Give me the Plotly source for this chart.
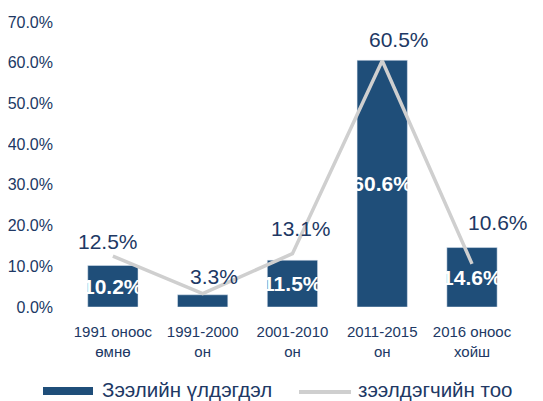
import plotly.graph_objects as go

categories = ["1991 оноос<br>өмнө", "1991-2000<br>он", "2001-2010<br>он", "2011-2015<br>он", "2016 оноос<br>хойш"]
loan_balance = [10.2, 3.0, 11.5, 60.6, 14.6]
loan_balance_labels = ["10.2%", "", "11.5%", "60.6%", "14.6%"]
borrowers = [12.5, 3.3, 13.1, 60.5, 10.6]
tick_vals = [0, 10, 20, 30, 40, 50, 60, 70]
tick_text = ["0.0%", "10.0%", "20.0%", "30.0%", "40.0%", "50.0%", "60.0%", "70.0%"]
series_names = ["Зээлийн үлдэгдэл", "зээлдэгчийн тоо"]

# label offsets (style)
label_xshift = [-5, 11, 9, 17, 26]
label_yshift = [15, 17, 25, 21, 41]

BAR = "#1F4E79"
LINE = "#CFCFCF"
TXT = "#203864"
FONT = "Liberation Sans, Arial, sans-serif"

# page body has an 8px margin; layout numbers compensate
ML, MR, MT, MB = 60, 21, 14, 102
W, H = 543, 401
PW, PH = W - ML - MR, H - MT - MB


def px(x):
    return (x - ML) / PW


def py(y):
    return (H - MB - y) / PH


fig = go.Figure()
fig.add_trace(go.Bar(
    x=categories, y=loan_balance, marker_color=BAR, width=0.56,
    text=loan_balance_labels, textposition="inside", insidetextanchor="middle",
    constraintext="none", textangle=0,
    textfont=dict(color="white", size=21, family=FONT, weight="bold"),
    showlegend=False, hoverinfo="skip", name=series_names[0],
))
fig.add_trace(go.Scatter(
    x=categories, y=borrowers, mode="lines", name=series_names[1],
    line=dict(color=LINE, width=3.5), showlegend=False,
))

for i, (c, v) in enumerate(zip(categories, borrowers)):
    fig.add_annotation(
        x=c, y=v, text=f"{v:.1f}%", showarrow=False,
        xshift=label_xshift[i], yshift=label_yshift[i],
        font=dict(size=21, color=TXT, family=FONT),
    )

# manual legend
fig.add_shape(type="rect", xref="paper", yref="paper",
              x0=px(35), x1=px(85), y0=py(387), y1=py(379),
              fillcolor=BAR, line=dict(width=0))
fig.add_shape(type="line", xref="paper", yref="paper",
              x0=px(291), x1=px(343), y0=py(384), y1=py(384),
              line=dict(color=LINE, width=4))
fig.add_annotation(xref="paper", yref="paper", x=px(92), y=py(381.5),
                   xanchor="left", yanchor="middle", showarrow=False,
                   text=series_names[0], font=dict(size=20.5, color=TXT, family=FONT))
fig.add_annotation(xref="paper", yref="paper", x=px(348), y=py(381.5),
                   xanchor="left", yanchor="middle", showarrow=False,
                   text=series_names[1], font=dict(size=20.5, color=TXT, family=FONT))

fig.update_layout(
    width=W, height=H,
    margin=dict(l=ML, r=MR, t=MT, b=MB, autoexpand=False),
    paper_bgcolor="white", plot_bgcolor="white",
    font=dict(family=FONT, color=TXT),
    showlegend=False,
    xaxis=dict(
        showgrid=False, showline=False, zeroline=False,
        tickfont=dict(size=15, color=TXT, family=FONT),
        ticklabelstandoff=14,
    ),
    yaxis=dict(
        range=[0, 70], tickvals=tick_vals, ticktext=tick_text,
        showgrid=False, showline=False, zeroline=False,
        tickfont=dict(size=16, color=TXT, family=FONT),
        ticklabelstandoff=14,
    ),
)

fig.write_html("out.html")
